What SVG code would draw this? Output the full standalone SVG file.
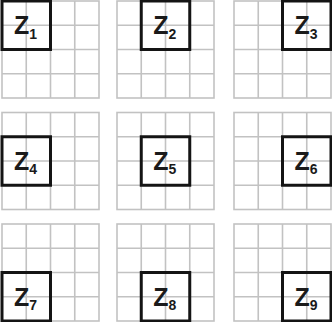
<svg xmlns="http://www.w3.org/2000/svg" xmlns:xlink="http://www.w3.org/1999/xlink" width="332" height="322" viewBox="0 0 332 322">
<style>
.g{fill:none;stroke:#c2c2c2;stroke-width:1.6}
.b{fill:none;stroke:#141414;stroke-width:3}
.t{font-family:"Liberation Sans",Arial,sans-serif;font-weight:bold;font-size:25px;fill:#1a1a1a;text-anchor:middle}
.s{font-size:14px}
</style>
<defs>
<g id="grid">
<rect class="g" x="0" y="0" width="97" height="97"/>
<path class="g" d="M24.25 0V97M48.5 0V97M72.75 0V97M0 24.25H97M0 48.5H97M0 72.75H97"/>
</g>
</defs>
<rect width="332" height="322" fill="#fff"/>
<g id="connectors"/>
<g id="z1"><use xlink:href="#grid" x="2" y="1"/><rect class="b" x="2" y="1" width="48.5" height="48.5"/><text class="t" x="25.5" y="34">Z<tspan class="s" dy="4.5">1</tspan></text></g>
<g id="z2"><use xlink:href="#grid" x="117" y="1"/><rect class="b" x="141.25" y="1" width="48.5" height="48.5"/><text class="t" x="164.75" y="34">Z<tspan class="s" dy="4.5">2</tspan></text></g>
<g id="z3"><use xlink:href="#grid" x="234" y="1"/><rect class="b" x="282.5" y="1" width="48.5" height="48.5"/><text class="t" x="306" y="34">Z<tspan class="s" dy="4.5">3</tspan></text></g>
<g id="z4"><use xlink:href="#grid" x="2" y="112.5"/><rect class="b" x="2" y="136.75" width="48.5" height="48.5"/><text class="t" x="25.5" y="169.75">Z<tspan class="s" dy="4.5">4</tspan></text></g>
<g id="z5"><use xlink:href="#grid" x="117" y="112.5"/><rect class="b" x="141.25" y="136.75" width="48.5" height="48.5"/><text class="t" x="164.75" y="169.75">Z<tspan class="s" dy="4.5">5</tspan></text></g>
<g id="z6"><use xlink:href="#grid" x="234" y="112.5"/><rect class="b" x="282.5" y="136.75" width="48.5" height="48.5"/><text class="t" x="306" y="169.75">Z<tspan class="s" dy="4.5">6</tspan></text></g>
<g id="z7"><use xlink:href="#grid" x="2" y="224"/><rect class="b" x="2" y="272.5" width="48.5" height="48.5"/><text class="t" x="25.5" y="305.5">Z<tspan class="s" dy="4.5">7</tspan></text></g>
<g id="z8"><use xlink:href="#grid" x="117" y="224"/><rect class="b" x="141.25" y="272.5" width="48.5" height="48.5"/><text class="t" x="164.75" y="305.5">Z<tspan class="s" dy="4.5">8</tspan></text></g>
<g id="z9"><use xlink:href="#grid" x="234" y="224"/><rect class="b" x="282.5" y="272.5" width="48.5" height="48.5"/><text class="t" x="306" y="305.5">Z<tspan class="s" dy="4.5">9</tspan></text></g>
</svg>
